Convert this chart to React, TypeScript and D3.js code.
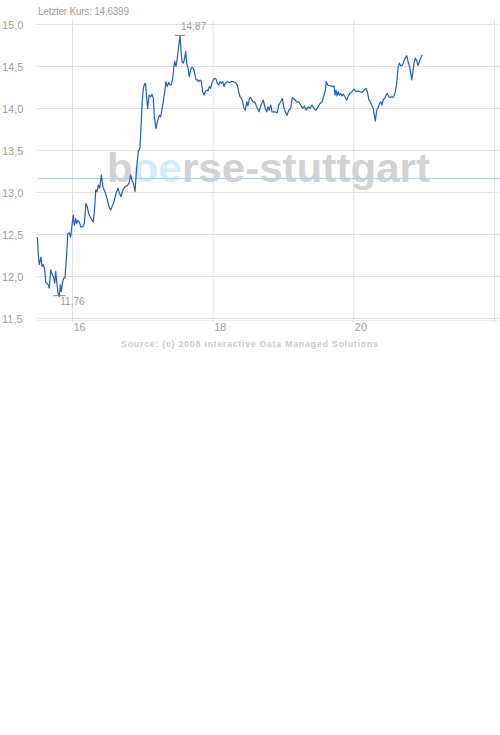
import * as d3 from "d3";

// Zeitachse in Tagen (Tag des Monats, mit Tagesbruchteil) und Kurse in EUR
const days = [
  15.5, 15.514, 15.528, 15.552, 15.566, 15.585, 15.605, 15.619, 15.637, 15.656,
  15.67, 15.69, 15.704, 15.727, 15.747, 15.761, 15.78, 15.794, 15.812, 15.827,
  15.841, 15.855, 15.875, 15.893, 15.918, 15.932, 15.955, 15.974, 15.993, 16.011,
  16.026, 16.046, 16.06, 16.078, 16.097, 16.117, 16.145, 16.168, 16.192, 16.21,
  16.23, 16.249, 16.277, 16.296, 16.316, 16.33, 16.348, 16.367, 16.387, 16.41,
  16.434, 16.462, 16.491, 16.519, 16.543, 16.562, 16.59, 16.619, 16.647, 16.668,
  16.69, 16.718, 16.747, 16.775, 16.803, 16.828, 16.846, 16.867, 16.889, 16.913,
  16.936, 16.96, 16.974, 16.993, 17.007, 17.024, 17.038, 17.055, 17.069, 17.088,
  17.112, 17.13, 17.149, 17.163, 17.187, 17.211, 17.234, 17.254, 17.273, 17.291,
  17.311, 17.329, 17.348, 17.368, 17.386, 17.405, 17.425, 17.439, 17.453, 17.472,
  17.49, 17.51, 17.529, 17.543, 17.557, 17.575, 17.59, 17.61, 17.624, 17.642,
  17.661, 17.681, 17.699, 17.718, 17.738, 17.756, 17.775, 17.794, 17.813, 17.831,
  17.851, 17.87, 17.888, 17.908, 17.927, 17.945, 17.965, 17.984, 18.002, 18.022,
  18.04, 18.059, 18.079, 18.097, 18.116, 18.136, 18.154, 18.173, 18.201, 18.23,
  18.258, 18.286, 18.315, 18.343, 18.363, 18.382, 18.4, 18.42, 18.439, 18.457,
  18.477, 18.495, 18.514, 18.534, 18.562, 18.591, 18.619, 18.652, 18.68, 18.713,
  18.741, 18.761, 18.78, 18.798, 18.818, 18.837, 18.855, 18.884, 18.912, 18.932,
  18.96, 18.983, 19.003, 19.026, 19.05, 19.074, 19.103, 19.125, 19.154, 19.188,
  19.216, 19.245, 19.273, 19.296, 19.32, 19.349, 19.377, 19.405, 19.434, 19.462,
  19.491, 19.519, 19.548, 19.576, 19.595, 19.609, 19.629, 19.651, 19.68, 19.7,
  19.718, 19.733, 19.747, 19.761, 19.779, 19.794, 19.814, 19.832, 19.851, 19.875,
  19.899, 19.922, 19.946, 19.974, 20.003, 20.031, 20.06, 20.088, 20.116, 20.145,
  20.173, 20.192, 20.216, 20.234, 20.254, 20.277, 20.291, 20.306, 20.325, 20.344,
  20.362, 20.382, 20.401, 20.419, 20.439, 20.458, 20.476, 20.496, 20.515, 20.533,
  20.553, 20.571, 20.59, 20.61, 20.628, 20.647, 20.667, 20.685, 20.699, 20.714,
  20.732, 20.752, 20.771, 20.789, 20.809, 20.823, 20.837, 20.856, 20.874, 20.894,
  20.913, 20.931, 20.951, 20.974,
];

const prices = [
  12.47, 12.26, 12.14, 12.23, 12.12, 12.14, 12.08, 11.93, 11.92, 11.9,
  11.86, 12.08, 12.04, 12.0, 11.92, 12.06, 11.9, 11.8, 11.76, 11.9,
  11.82, 11.92, 11.98, 11.98, 12.28, 12.51, 12.52, 12.47, 12.61, 12.73,
  12.61, 12.69, 12.63, 12.67, 12.65, 12.59, 12.59, 12.63, 12.87, 12.83,
  12.75, 12.71, 12.67, 12.65, 12.83, 13.03, 13.01, 13.09, 13.05, 13.21,
  13.06, 13.01, 12.93, 12.83, 12.79, 12.83, 12.89, 12.99, 13.05, 12.99,
  12.95, 13.03, 13.07, 13.08, 13.11, 13.21, 13.14, 13.11, 13.01, 13.31,
  13.49, 13.53, 13.78, 14.1, 14.24, 14.29, 14.3, 14.12, 14.0, 14.16,
  14.14, 14.17, 14.12, 13.9, 13.76, 13.86, 13.92, 13.9, 14.0, 14.08,
  14.2, 14.32, 14.26, 14.31, 14.28, 14.28, 14.36, 14.48, 14.56, 14.5,
  14.6, 14.74, 14.87, 14.7, 14.56, 14.54, 14.58, 14.68, 14.54, 14.48,
  14.38, 14.47, 14.49, 14.48, 14.42, 14.34, 14.34, 14.32, 14.34, 14.32,
  14.2, 14.16, 14.2, 14.22, 14.21, 14.26, 14.24, 14.31, 14.34, 14.36,
  14.35, 14.3, 14.28, 14.32, 14.3, 14.32, 14.26, 14.3, 14.32, 14.31,
  14.32, 14.32, 14.31, 14.28, 14.2, 14.14, 14.12, 14.08, 14.0, 13.98,
  14.08, 14.03, 14.12, 14.13, 14.08, 14.08, 14.02, 13.96, 14.04, 14.1,
  14.0, 13.96, 14.02, 13.98, 14.04, 13.96, 13.96, 13.96, 13.95, 14.04,
  14.08, 14.12, 14.02, 13.96, 13.92, 13.98, 14.0, 14.13, 14.11, 14.08,
  14.08, 14.04, 14.0, 14.03, 13.98, 14.02, 14.0, 14.04, 14.0, 13.98,
  14.02, 14.06, 14.08, 14.16, 14.22, 14.32, 14.28, 14.27, 14.27, 14.26,
  14.27, 14.16, 14.22, 14.15, 14.2, 14.16, 14.18, 14.15, 14.17, 14.14,
  14.1, 14.15, 14.18, 14.2, 14.23, 14.2, 14.21, 14.2, 14.19, 14.22,
  14.24, 14.2, 14.1, 14.08, 14.04, 14.0, 13.92, 13.85, 13.98, 14.01,
  14.05, 14.08, 14.04, 14.11, 14.12, 14.16, 14.18, 14.14, 14.13, 14.14,
  14.13, 14.15, 14.2, 14.3, 14.48, 14.54, 14.51, 14.51, 14.53, 14.57,
  14.6, 14.63, 14.56, 14.51, 14.42, 14.34, 14.42, 14.54, 14.6, 14.57,
  14.51, 14.56, 14.6, 14.64,
];

const yTicks = [11.5, 12, 12.5, 13, 13.5, 14, 14.5, 15];
const xGrid = [16, 18, 20, 22];
const xLabels = [16, 18, 20];
const lastPrice = 14.6399;
const prevClose = 13.167;
const sourceText = "Source: (c) 2008 Interactive Data Managed Solutions";

const fmt = (v: number, digits: number) => v.toFixed(digits).replace(".", ",");
const font = "'Liberation Sans', Arial, sans-serif";

export default function App() {
  const width = 500;
  const height = 735;

  const x = d3.scaleLinear().domain([16, 22]).range([72.5, 494.5]);
  const y = d3.scaleLinear().domain([11.5, 15]).range([318.5, 24.5]);

  const pts = days.map((d, i) => [d, prices[i]] as [number, number]);
  const line = d3
    .line<[number, number]>()
    .x((d) => x(d[0]))
    .y((d) => y(d[1]));

  const iMax = d3.maxIndex(prices);
  const iMin = d3.minIndex(prices);
  const left = x(15.5); // linker Rand der Zeitachse
  const refY = Math.round(y(prevClose)) + 0.5;

  return (
    <svg
      width={width}
      height={height}
      style={{ position: "absolute", left: 0, top: 0, background: "#fff" }}
      fontFamily={font}
    >
      <rect width={width} height={height} fill="#fff" />

      {/* Gitter */}
      {yTicks.map((t) => (
        <line
          key={"h" + t}
          x1={left - 1}
          x2={width}
          y1={y(t)}
          y2={y(t)}
          stroke="#e0e0e0"
        />
      ))}
      <line x1={left - 1} x2={width} y1={y(11.5) + 2} y2={y(11.5) + 2} stroke="#ececec" />
      {xGrid.map((t) => (
        <line key={"v" + t} x1={x(t)} x2={x(t)} y1={20} y2={322} stroke="#e0e0e0" />
      ))}

      {/* Wasserzeichen */}
      <text
        x={107}
        y={182}
        fontSize={40}
        fontWeight="bold"
        fill="#d2d2d2"
        textLength={323}
        lengthAdjust="spacingAndGlyphs"
      >
        b<tspan fill="#d3ecfa">oe</tspan>rse-stuttgart
      </text>

      {/* Vortagesschluss */}
      <line x1={left} x2={width} y1={refY} y2={refY} stroke="#a6d4f5" />

      {/* Achsenbeschriftung */}
      {yTicks.map((t) => (
        <text key={"yl" + t} x={2} y={y(t) + 4} fontSize={11} fill="#a0a0a0">
          {fmt(t, 1)}
        </text>
      ))}
      {xLabels.map((t) => (
        <text key={"xl" + t} x={x(t) + 1} y={331} fontSize={11} fill="#a0a0a0">
          {t}
        </text>
      ))}

      {/* Kurslinie */}
      <path
        d={line(pts) ?? ""}
        fill="none"
        stroke="#1f5fc4"
        strokeWidth={1.2}
        strokeLinejoin="round"
      />

      {/* Hoch / Tief */}
      <line
        x1={x(days[iMax]) - 5}
        x2={x(days[iMax]) + 5}
        y1={y(prices[iMax])}
        y2={y(prices[iMax])}
        stroke="#888"
      />
      <text x={x(days[iMax]) + 1} y={y(prices[iMax]) - 5} fontSize={10} fill="#a0a0a0">
        {fmt(prices[iMax], 2)}
      </text>
      <line
        x1={x(days[iMin]) - 6}
        x2={x(days[iMin]) + 6}
        y1={y(prices[iMin]) - 1}
        y2={y(prices[iMin]) - 1}
        stroke="#888"
      />
      <text x={x(days[iMin]) + 1} y={y(prices[iMin]) + 8} fontSize={10} fill="#a0a0a0">
        {fmt(prices[iMin], 2)}
      </text>

      {/* Kopf und Quelle */}
      <text x={38} y={15} fontSize={10} fill="#a0a0a0" textLength={91} lengthAdjust="spacing">
        Letzter Kurs: {fmt(lastPrice, 4)}
      </text>
      <text
        x={249.5}
        y={346.5}
        fontSize={9}
        fontWeight="bold"
        fill="#cacaca"
        textAnchor="middle"
        textLength={257}
        lengthAdjust="spacing"
      >
        {sourceText}
      </text>
    </svg>
  );
}
